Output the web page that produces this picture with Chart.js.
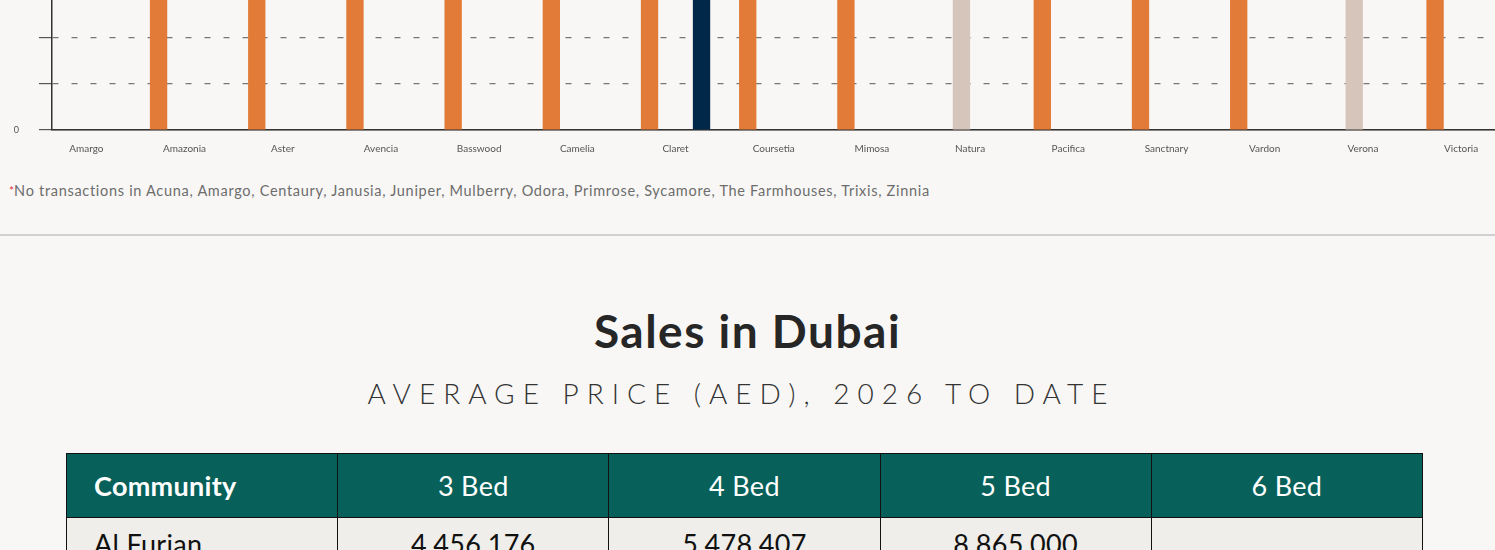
<!DOCTYPE html>
<html>
<head>
<meta charset="utf-8">
<script src="https://cdn.jsdelivr.net/npm/chart.js@4/dist/chart.umd.min.js"></script>
<style>
  html, body { margin: 0; padding: 0; width: 1495px; height: 550px; overflow: hidden; background: #f8f7f5; font-family: Lato, "Open Sans", sans-serif; }
  #chartBox { position: absolute; left: 0; top: -311px; width: 1520px; height: 479px; }
  .footnote { position: absolute; left: 9px; top: 182px; font-size: 14.5px; letter-spacing: 0.7px; line-height: 18px; color: #6d6d6d; }
  .footnote span { color: #e0383e; font-size: 12px; letter-spacing: 0; vertical-align: top; }
  .divider { position: absolute; left: 0; top: 234px; width: 1495px; height: 2px; background: #d0d0d0; }
  h2 { position: absolute; left: 0; top: 308px; width: 1495px; margin: 0; text-align: center; font-size: 46px; letter-spacing: 1.5px; line-height: 46px; font-weight: 700; color: #262626; }
  .sub { position: absolute; left: 0; top: 377px; width: 1483px; text-align: center; font-size: 28px; line-height: 32px; font-weight: 300; letter-spacing: 8px; color: #333; }
  table { position: absolute; left: 66px; top: 453px; width: 1357px; border-collapse: collapse; table-layout: fixed; }
  th, td { border: 1px solid #111; height: 63px; font-size: 27px; letter-spacing: 0.3px; text-align: center; padding: 0; }
  th { background: #07615a; color: #fff; font-weight: 400; }
  td { background: #efeeea; color: #111; height: 51px; padding-bottom: 12px; }
  th:first-child, td:first-child { text-align: left; padding-left: 27px; font-weight: 700; }
  td:first-child { font-weight: 400; }
</style>
</head>
<body>
<div id="chartBox"><canvas id="salesChart"></canvas></div>
<div class="footnote"><span>*</span>No transactions in Acuna, Amargo, Centaury, Janusia, Juniper, Mulberry, Odora, Primrose, Sycamore, The Farmhouses, Trixis, Zinnia</div>
<div class="divider"></div>
<h2>Sales in Dubai</h2>
<div class="sub">AVERAGE PRICE (AED), 2026 TO DATE</div>
<table>
  <tr><th>Community</th><th>3 Bed</th><th>4 Bed</th><th>5 Bed</th><th>6 Bed</th></tr>
  <tr><td>Al Furjan</td><td>4,456,176</td><td>5,478,407</td><td>8,865,000</td><td></td></tr>
</table>
<script>
//Chart data
var communities = ['Amargo','Amazonia','Aster','Avencia','Basswood','Camelia','Claret','Coursetia','Mimosa','Natura','Pacifica','Sanctnary','Vardon','Verona','Victoria'];
var bed3 = [null,2300000,2400000,2200000,2500000,2600000,2350000,2450000,2700000,null,2300000,2900000,2500000,null,2600000];
var bed4 = [null,null,null,null,null,null,null,null,null,3100000,null,null,null,3300000,null];
var bed5 = [null,null,null,null,null,null,null,null,null,null,null,null,null,null,null];
var bed6 = [null,null,null,null,null,null,3800000,null,null,null,null,null,null,null,null];
var yTickValues = [0,1500000,3000000,4500000];
var yTickLabels = ['0','1.5M','3M','4.5M'];

// one point per community, x is the community index
function points(values) {
  return values.map(function(v, i) { return {x: i, y: v}; });
}

var sales = document.getElementById('salesChart').getContext('2d');
var salesChart = new Chart(sales, {
  type: 'bar',
  data: {
    datasets: [
      {label: '3 Bed', data: points(bed3), backgroundColor: '#e17b37'},
      {label: '4 Bed', data: points(bed4), backgroundColor: '#d6c5ba'},
      {label: '5 Bed', data: points(bed5), backgroundColor: '#07615a'},
      {label: '6 Bed', data: points(bed6), backgroundColor: '#022849'}
    ]
  },
  options: {
    responsive: true,
    maintainAspectRatio: false,
    animation: false,
    layout: { padding: { top: 16 } },
    categoryPercentage: 0.706,
    barPercentage: 1,
    plugins: {
      legend: { display: false },
      tooltip: { enabled: false }
    },
    scales: {
      x: {
        type: 'linear',
        offset: false,
        min: -0.35,
        max: 14.6,
        grid: { display: false, drawTicks: false, offset: false },
        border: { display: true, color: '#333', width: 1.5 },
        ticks: {
          stepSize: 1,
          includeBounds: false,
          autoSkip: false,
          maxRotation: 0,
          padding: 13,
          color: '#555',
          font: { family: 'Lato', size: 10 },
          callback: function(v) { return communities[v] || ''; }
        }
      },
      y: {
        min: 0,
        max: 4500000,
        afterFit: function(scale) { scale.width = 52; },
        grid: {
          color: '#777',
          lineWidth: 1.2,
          tickColor: '#555',
          tickLength: 13
        },
        border: {
          display: true,
          color: '#333',
          width: 1.5,
          dash: function(ctx) { return ctx.tick && ctx.tick.value === 0 ? [] : [6, 13]; }
        },
        ticks: {
          stepSize: 500000,
          padding: 20,
          color: '#555',
          font: { family: 'Lato', size: 9 },
          callback: function(v) {
            var i = yTickValues.indexOf(v);
            return i < 0 ? '' : yTickLabels[i];
          }
        }
      }
    }
  }
});
</script>
</body>
</html>
